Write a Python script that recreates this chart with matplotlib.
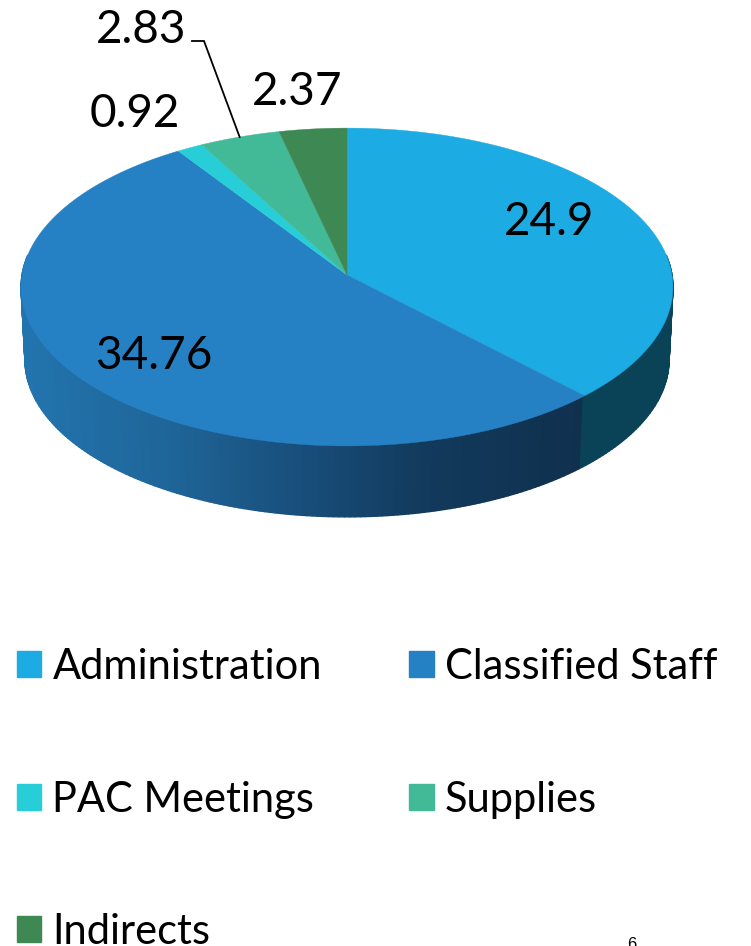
import numpy as np
import matplotlib
matplotlib.use("Agg")
import matplotlib.pyplot as plt
from matplotlib.collections import PolyCollection
from matplotlib.colors import LinearSegmentedColormap
from matplotlib.patches import Patch

categories = ["Administration", "Classified Staff", "PAC Meetings", "Supplies", "Indirects"]
values = [24.9, 34.76, 0.92, 2.83, 2.37]
colors = ["#1CABE2", "#2581C4", "#27CED7", "#42BA97", "#3E8853"]

plt.rcParams["font.family"] = ["Lato", "DejaVu Sans"]

# pie geometry, in pixels of the picture
cx, cy = 347, 275
rx, ry = 325, 158
persp = 0.0755
depth = 73
shrink = 0.988


def rim(frac, scale=1.0, drop=0.0):
    # frac = share of the circle, clockwise from the top
    t = 2 * np.pi * np.asarray(frac)
    u, v = np.sin(t), np.cos(t)
    d = 1 + persp * v
    return cx + scale * rx * u / d, cy - scale * ry * v / d + drop


fig = plt.figure(figsize=(7.51, 9.46), dpi=100)
ax = fig.add_axes([0, 0, 1, 1])
ax.set_xlim(0, 751)
ax.set_ylim(946, 0)
ax.axis("off")

edges = np.concatenate([[0], np.cumsum(values)]) / np.sum(values)

# side wall, only the front half shows
wall_cmap = LinearSegmentedColormap.from_list(
    "wall", [(0, "#10304E"), (0.28, "#123A5C"), (0.5, "#184E7B"),
             (0.75, "#1F6699"), (1, "#2274AE")])
steps = np.linspace(0.23, 0.77, 220)
quads, quad_cols = [], []
for a, b in zip(steps[:-1], steps[1:]):
    xa, ya = rim(a)
    xb, yb = rim(b)
    xa2, ya2 = rim(a, shrink, depth)
    xb2, yb2 = rim(b, shrink, depth)
    quads.append([(xa, ya), (xb, yb), (xb2, yb2), (xa2, ya2)])
    if a < edges[1]:
        quad_cols.append("#0A4358")
    else:
        quad_cols.append(wall_cmap(np.clip((584 - xa) / 560, 0, 1)))
ax.add_collection(PolyCollection(quads, facecolors=quad_cols, edgecolors=quad_cols, linewidths=1.0))

# top face
for i in range(len(values)):
    fr = np.linspace(edges[i], edges[i + 1], 200)
    xs, ys = rim(fr)
    ax.fill(np.r_[cx, xs], np.r_[cy, ys], color=colors[i], lw=0.3)

# value labels
label_pos = [(549, 222), (154, 356), (135, 114), (141, 30), (297, 92)]
for v, (lx, ly) in zip(values, label_pos):
    ax.text(lx, ly, str(v), fontsize=33, color="black", ha="center", va="center")

# leader line of the Supplies label
mx, my = rim((edges[3] + edges[4]) / 2)
ax.plot([192, 204, mx], [41, 41, my], color="black", lw=1.3, solid_joinstyle="miter")

# legend fills by column, the reference reads by row
handles = [Patch(color=c, label=n) for c, n in zip(colors, categories)]
order = [0, 2, 4, 1, 3]
fig.legend([handles[i] for i in order], [categories[i] for i in order],
           ncols=2, loc="upper left", bbox_to_anchor=(17 / 751, 1 - 648 / 946),
           frameon=False, fontsize=30, borderpad=0, borderaxespad=0,
           handlelength=0.58, handleheight=0.58, handletextpad=0.27,
           columnspacing=2.1, labelspacing=2.27)

ax.text(632, 949, "6", fontsize=12, family="Liberation Sans", ha="center", va="baseline", clip_on=False)

fig.savefig("out.png", dpi=100)
